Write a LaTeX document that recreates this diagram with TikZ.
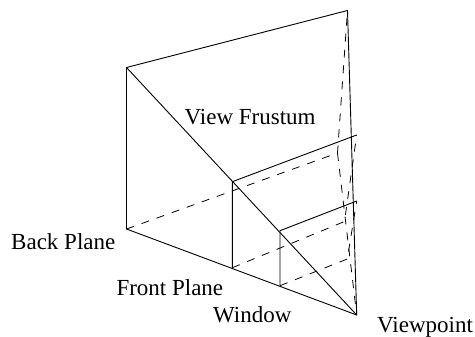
\documentclass[tikz,border=0pt]{standalone}
\usepackage{tikz}
\usepackage{fontspec}
\setmainfont{Liberation Serif}
\begin{document}
\begin{tikzpicture}[x=1pt,y=-1pt,
edge/.style={draw=black,line width=0.9pt},
hidden/.style={draw=black,line width=0.8pt,dash pattern=on 8pt off 8pt},
label/.style={font=\fontsize{23}{26}\selectfont,inner sep=0pt,anchor=base west}
]
\useasboundingbox (0,0) rectangle (475,337);
\coordinate (BTL) at (126.5,67.5);
\coordinate (BBL) at (126.5,229);
\coordinate (BTR) at (347.5,10.5);
\coordinate (BBR) at (337.5,153);
\coordinate (FTL) at (232.3,181.7);
\coordinate (FBL) at (232.3,267.7);
\coordinate (FTR) at (356.7,135);
\coordinate (FBR) at (344.5,221.5);
\coordinate (WTL) at (280,230.7);
\coordinate (WBL) at (280,285.7);
\coordinate (WTR) at (356.7,201);
\coordinate (WBR) at (347.3,259);
\coordinate (VP) at (356.7,315);
\draw[edge] (BBL) -- (BTL) -- (BTR) -- (VP) -- cycle;
\draw[edge] (BTL) -- (VP);
\draw[edge] (FBL) -- (FTL) -- (FTR);
\draw[edge] (WBL) -- (WTL) -- (WTR);
\draw[hidden] (BBL) -- (BBR) -- (BTR);
\draw[hidden] (BBR) -- (VP);
\draw[hidden] (FBL) -- (FBR) -- (FTR);
\draw[hidden] (WBL) -- (WBR) -- (WTR);
\node[label] (frustum) at (184.5,125) {View Frustum};
\node[label] (back) at (11,249.3) {Back Plane};
\node[label] (front) at (116.3,296) {Front Plane};
\node[label] (window) at (213,323) {Window};
\node[label] (viewpoint) at (377,333) {Viewpoint};
\end{tikzpicture}
\end{document}
